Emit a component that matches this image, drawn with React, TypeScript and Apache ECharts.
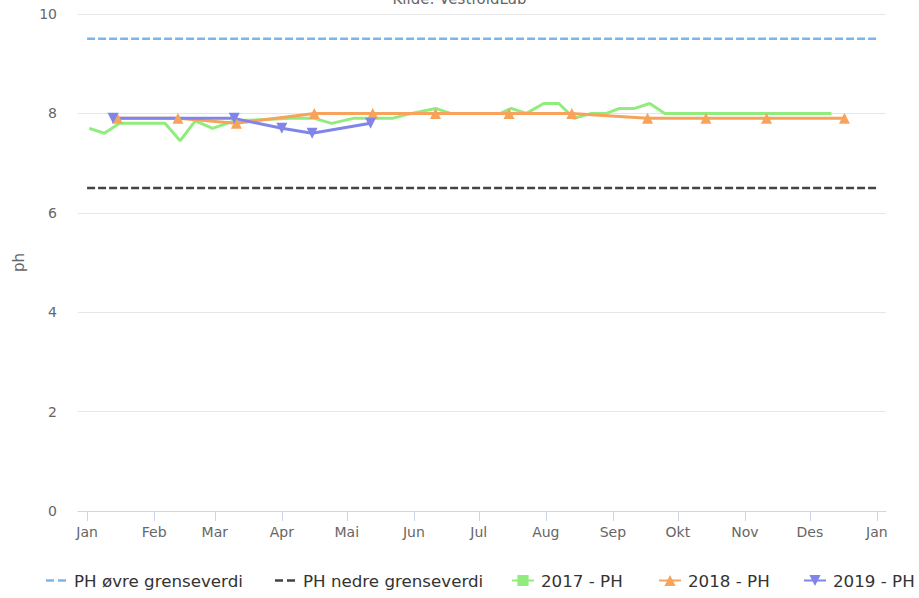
import React, { useEffect, useRef } from "react";
import * as echarts from "echarts";

const FONT = "DejaVu Sans";

const monthNames = ["Jan", "Feb", "Mar", "Apr", "Mai", "Jun", "Jul", "Aug", "Sep", "Okt", "Nov", "Des"];
const tickDates = [
  "2018-01-01", "2018-02-01", "2018-03-01", "2018-04-01", "2018-05-01", "2018-06-01", "2018-07-01",
  "2018-08-01", "2018-09-01", "2018-10-01", "2018-11-01", "2018-12-01", "2019-01-01",
];

const seriesNames = ["PH øvre grenseverdi", "PH nedre grenseverdi", "2017 - PH", "2018 - PH", "2019 - PH"];

const limitDates = ["2018-01-01", "2019-01-01"];
const upperLimit = [9.5, 9.5];
const lowerLimit = [6.5, 6.5];

const dates2017 = [
  "2018-01-02", "2018-01-09", "2018-01-16", "2018-02-06", "2018-02-13", "2018-02-20", "2018-02-28",
  "2018-03-10", "2018-04-05", "2018-04-16", "2018-04-24", "2018-05-04", "2018-05-14", "2018-05-22",
  "2018-05-31", "2018-06-11", "2018-06-18", "2018-07-11", "2018-07-16", "2018-07-23", "2018-07-31",
  "2018-08-07", "2018-08-14", "2018-08-22", "2018-08-29", "2018-09-04", "2018-09-11", "2018-09-18",
  "2018-09-25", "2018-12-11",
];
const values2017 = [
  7.7, 7.6, 7.8, 7.8, 7.45, 7.85, 7.7,
  7.85, 7.9, 7.9, 7.8, 7.9, 7.9, 7.9,
  8.0, 8.1, 8.0, 8.0, 8.1, 8.0, 8.2,
  8.2, 7.9, 8.0, 8.0, 8.1, 8.1, 8.2,
  8.0, 8.0,
];

const dates2018 = [
  "2018-01-15", "2018-02-12", "2018-03-11", "2018-04-16", "2018-05-13", "2018-06-11",
  "2018-07-15", "2018-08-13", "2018-09-17", "2018-10-14", "2018-11-11", "2018-12-17",
];
const values2018 = [7.9, 7.9, 7.8, 8.0, 8.0, 8.0, 8.0, 8.0, 7.9, 7.9, 7.9, 7.9];

const dates2019 = ["2018-01-13", "2018-03-10", "2018-04-01", "2018-04-15", "2018-05-12"];
const values2019 = [7.9, 7.9, 7.7, 7.6, 7.8];

const DAY = 86400000;
function toTime(s: string): number {
  const [y, m, d] = s.split("-").map(Number);
  return new Date(y, m - 1, d).getTime();
}
function pairs(dates: string[], values: number[]) {
  return dates.map((d, i) => [toTime(d), values[i]]);
}

const DASH_ICON = "path://M0,0 M22,14 M1,5.75 L9,5.75 L9,8.25 L1,8.25 Z M13,5.75 L21,5.75 L21,8.25 L13,8.25 Z";
const legendLefts = [40, 269, 506, 653, 798];

export default function App() {
  const ref = useRef<HTMLDivElement>(null);
  useEffect(() => {
    if (!ref.current) return;
    const chart = echarts.init(ref.current, undefined, { renderer: "svg" });
    const ticks = tickDates.map(toTime);
    const legends = seriesNames.map((name, i) => ({
      left: legendLefts[i],
      top: 567,
      width: 400,
      itemWidth: 22,
      itemHeight: 14,
      textStyle: { fontSize: 16.7, color: "#333333", fontFamily: FONT, padding: [0, 0, 0, 2] },
      data: [i < 2 ? { name, icon: DASH_ICON } : name],
    }));
    const option: any = {
      animation: false,
      textStyle: { fontFamily: FONT },
      title: {
        text: "Kilde: VestfoldLab",
        left: "center",
        top: -14,
        textStyle: { fontSize: 15, fontWeight: "normal", color: "#666666", fontFamily: FONT },
      },
      grid: { left: 78, right: 33, top: 14, bottom: 87, containLabel: false, outerBoundsMode: "none" },
      xAxis: {
        type: "value",
        min: toTime("2018-01-01") - 4.2 * DAY,
        max: toTime("2019-01-01") + 4.2 * DAY,
        splitLine: { show: false },
        axisLine: { show: true, lineStyle: { color: "#ccd6eb", width: 1 } },
        axisTick: { show: true, length: 10, lineStyle: { color: "#ccd6eb" }, customValues: ticks },
        axisLabel: {
          customValues: ticks,
          color: "#666666",
          fontSize: 14,
          fontFamily: FONT,
          margin: 14,
          formatter: (v: number) => monthNames[new Date(v).getMonth()],
        },
      },
      yAxis: {
        type: "value",
        min: 0,
        max: 10,
        interval: 2,
        name: "ph",
        nameLocation: "middle",
        nameGap: 52,
        nameTextStyle: { color: "#666666", fontSize: 15, fontFamily: FONT },
        axisLine: { show: false },
        axisTick: { show: false },
        axisLabel: { color: "#666666", fontSize: 14, fontFamily: FONT, margin: 21 },
        splitLine: { lineStyle: { color: "#e6e6e6", width: 1 } },
      },
      legend: legends,
      series: [
        {
          name: seriesNames[0],
          type: "line",
          data: pairs(limitDates, upperLimit),
          symbol: "none",
          lineStyle: { color: "#7cb5ec", width: 2.5, type: [8, 3] },
          itemStyle: { color: "#7cb5ec" },
        },
        {
          name: seriesNames[1],
          type: "line",
          data: pairs(limitDates, lowerLimit),
          symbol: "none",
          lineStyle: { color: "#434348", width: 2.5, type: [8, 3] },
          itemStyle: { color: "#434348" },
        },
        {
          name: seriesNames[2],
          type: "line",
          data: pairs(dates2017, values2017),
          symbol: "rect",
          symbolSize: 9,
          showSymbol: false,
          lineStyle: { color: "#90ed7d", width: 3 },
          itemStyle: { color: "#90ed7d" },
        },
        {
          name: seriesNames[3],
          type: "line",
          data: pairs(dates2018, values2018),
          symbol: "triangle",
          symbolSize: 11,
          lineStyle: { color: "#f7a35c", width: 3 },
          itemStyle: { color: "#f7a35c" },
        },
        {
          name: seriesNames[4],
          type: "line",
          data: pairs(dates2019, values2019),
          symbol: "triangle",
          symbolRotate: 180,
          symbolSize: 11,
          lineStyle: { color: "#8085e9", width: 3 },
          itemStyle: { color: "#8085e9" },
        },
      ],
    };
    chart.setOption(option);
    return () => chart.dispose();
  }, []);
  return (
    <div
      ref={ref}
      style={{ position: "fixed", left: 0, top: 0, width: 919, height: 598, background: "#ffffff" }}
    />
  );
}
